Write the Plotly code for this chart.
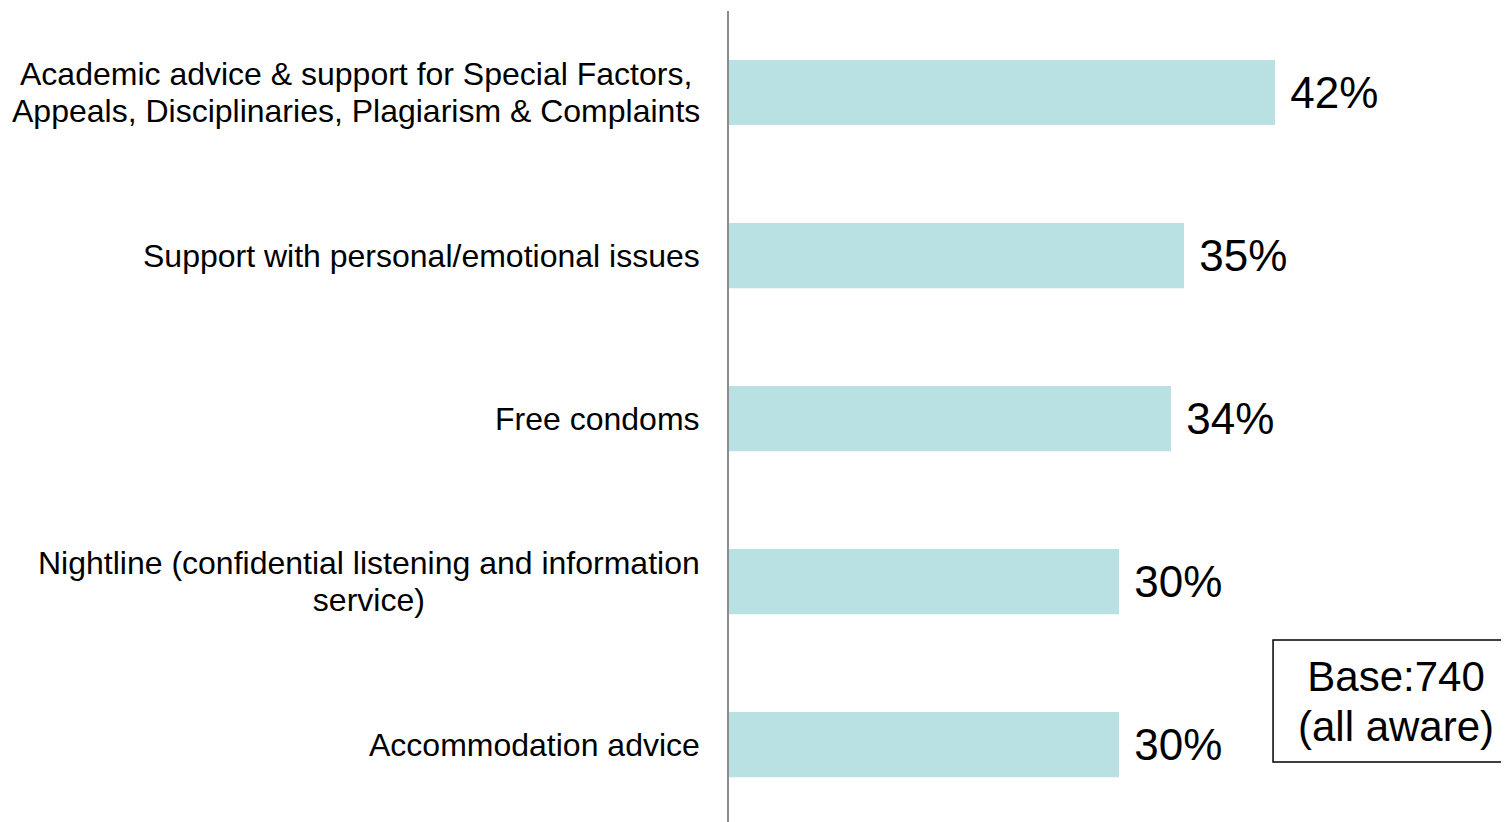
import plotly.graph_objects as go

categories = [
    "Academic advice & support for Special Factors,<br>Appeals, Disciplinaries, Plagiarism & Complaints",
    "Support with personal/emotional issues",
    "Free condoms",
    "Nightline (confidential listening and information<br>service)",
    "Accommodation advice",
]
values = [42, 35, 34, 30, 30]
value_labels = ["42%", "35%", "34%", "30%", "30%"]
base_note = "Base:740<br>(all aware)"

FONT = "Liberation Sans, Arial, sans-serif"
BAR_COLOR = "#B9E0E3"

fig = go.Figure()
fig.add_trace(go.Bar(
    x=values,
    y=categories,
    orientation="h",
    width=0.4,
    marker=dict(color=BAR_COLOR, line=dict(width=0)),
    text=["\u00a0" + t for t in value_labels],
    textposition="outside",
    textfont=dict(family=FONT, size=44, color="#000000"),
    constraintext="none",
    cliponaxis=False,
    hoverinfo="skip",
))

def styled(label, px):
    return "<br>".join(f'<span style="font-size:{px}px">{ln}</span>' for ln in label.split("<br>"))

annotations = []
for c in categories:
    annotations.append(dict(
        x=0, xref="paper", y=c, yref="y",
        text=styled(c, 32), showarrow=False,
        xanchor="right", yanchor="middle", align="center",
        xshift=-27,
        font=dict(family=FONT, size=28.5, color="#000000"),
    ))

annotations.append(dict(
    x=0.855, xref="paper", y=0.149, yref="paper",
    text=styled(base_note, 42), showarrow=False,
    xanchor="center", yanchor="middle", align="center",
    font=dict(family=FONT, size=38.5, color="#000000"),
))

fig.update_layout(
    width=1501, height=814,
    margin=dict(l=721, r=0, t=3, b=0),
    paper_bgcolor="white", plot_bgcolor="white",
    showlegend=False,
    annotations=annotations,
    shapes=[dict(
        type="rect", xref="paper", yref="paper",
        x0=0.6975, x1=1.02, y0=0.074, y1=0.2245,
        line=dict(color="#000000", width=1.5),
        fillcolor="rgba(0,0,0,0)",
    )],
    font=dict(family=FONT),
)
fig.update_xaxes(range=[0, 60], showgrid=False, zeroline=False,
                 showticklabels=False, showline=False, fixedrange=True)
fig.update_yaxes(type="category", categoryorder="array", categoryarray=categories,
                 range=[4.475, -0.5], showgrid=False, zeroline=False,
                 showticklabels=False, showline=True, linecolor="#8C8C8C",
                 linewidth=2, ticks="")

fig.write_html("out.html")
